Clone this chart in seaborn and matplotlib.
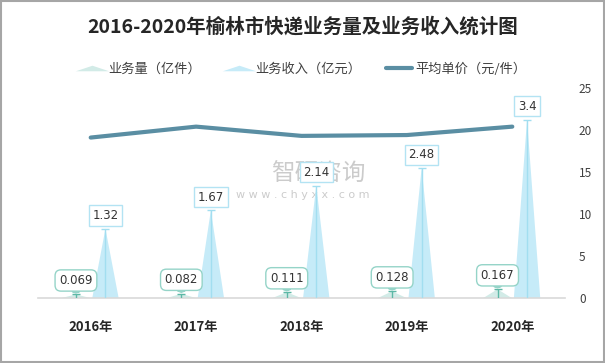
import numpy as np
import pandas as pd
import matplotlib
matplotlib.use("Agg")
import matplotlib.pyplot as plt
import seaborn as sns
from matplotlib.lines import Line2D
from matplotlib.patches import Rectangle

years = ["2016年", "2017年", "2018年", "2019年", "2020年"]
volume = [0.069, 0.082, 0.111, 0.128, 0.167]      # 亿件
revenue = [1.32, 1.67, 2.14, 2.48, 3.4]           # 亿元
unit_price = [19.1, 20.4, 19.3, 19.4, 20.4]       # 元/件

sns.set_style("white")
plt.rcParams["font.family"] = ["Noto Sans CJK SC", "DejaVu Sans"]

C_VOL = "#d2ebe7"
C_VOL_LINE = "#5db8a6"
C_VOL_BOX = "#95d4c8"
C_REV = "#c6ebf8"
C_REV_LINE = "#a2def0"
C_REV_BOX = "#b3e3f3"
C_PRICE = "#5a8ea3"

fig = plt.figure(figsize=(6.05, 3.63), dpi=100)
fig.patch.set_facecolor("white")
ax = fig.add_axes([38 / 605, 65 / 363, 527 / 605, 210 / 363])
ax2 = ax.twinx()

x = np.arange(len(years))
off = 0.14
half = 0.125

# triangles for volume and revenue (left hidden axis 0-4)
for xi, v, r in zip(x, volume, revenue):
    xv = xi - off
    ax.fill([xv - half - 0.01, xv + half + 0.01, xv], [0, 0, v], color=C_VOL, lw=0, zorder=2)
    xr = xi + off
    ax.fill([xr - half, xr + half, xr], [0, 0, r], color=C_REV, lw=0, zorder=2)

xv_all = x - off
xr_all = x + off
ax.vlines(xv_all, 0, volume, color=C_VOL_LINE, lw=1, zorder=3)
ax.plot(xv_all, volume, ls="none", marker="_", ms=6, mew=1, color=C_VOL_LINE, zorder=3)
ax.vlines(xr_all, 0, revenue, color=C_REV_LINE, lw=1, zorder=3)
ax.plot(xr_all, revenue, ls="none", marker="_", ms=6, mew=1, color=C_REV_LINE, zorder=3)

for xi, v in zip(xv_all, volume):
    ax.annotate(f"{v:g}", (xi, v), xytext=(0, 10), textcoords="offset points",
                ha="center", va="center", fontsize=8.5, color="#333333", zorder=5,
                family=["DejaVu Sans"],
                bbox=dict(boxstyle="round,pad=0.35,rounding_size=0.5", fc="white",
                          ec=C_VOL_BOX, lw=1),
                arrowprops=dict(arrowstyle="wedge,tail_width=0.6", fc="white",
                                ec=C_VOL_BOX, lw=1, shrinkA=0, shrinkB=1))
for xi, r in zip(xr_all, revenue):
    ax.annotate(f"{r:g}", (xi, r), xytext=(0, 9.5), textcoords="offset points",
                ha="center", va="center", fontsize=8.5, color="#333333", zorder=5,
                family=["DejaVu Sans"],
                bbox=dict(boxstyle="square,pad=0.3", fc="white", ec=C_REV_BOX, lw=1))

ax.set_ylim(0, 4)
ax.set_xlim(-0.5, len(years) - 0.5)
ax.set_yticks([])
ax.set_xticks(x)
ax.set_xticklabels(years, fontsize=9.5, fontweight="bold", color="#262626")
ax.tick_params(axis="x", length=0, pad=16)
for s in ["top", "left", "right"]:
    ax.spines[s].set_visible(False)
ax.spines["bottom"].set_color("#d9d9d9")
ax.spines["bottom"].set_linewidth(1.2)

# unit price line on right axis
df = pd.DataFrame({"x": x, "price": unit_price})
sns.lineplot(data=df, x="x", y="price", ax=ax2, color=C_PRICE, lw=3, zorder=4)
ax2.set_ylim(0, 25)
ax2.set_yticks([0, 5, 10, 15, 20, 25])
ax2.tick_params(axis="y", length=0, pad=10, labelsize=8.5, labelcolor="#404040")
ax2.set_xlabel("")
ax2.set_ylabel("")
for s in ["top", "left", "right", "bottom"]:
    ax2.spines[s].set_visible(False)
ax.set_zorder(ax2.get_zorder() + 1)
ax.patch.set_visible(False)

# title and legend
fig.text(0.5, 1 - 27 / 363, "2016-2020年榆林市快递业务量及业务收入统计图",
         ha="center", va="center", fontsize=14, fontweight="bold", color="#262626")

tri = [(-3, -0.5), (3, -0.5), (0, 0.5)]
handles = [
    Line2D([], [], ls="none", marker=tri, ms=24, color=C_VOL, mew=0),
    Line2D([], [], ls="none", marker=tri, ms=24, color=C_REV, mew=0),
    Line2D([], [], color=C_PRICE, lw=3),
]
labels = ["业务量（亿件）", "业务收入（亿元）", "平均单价（元/件）"]
fig.legend(handles, labels, loc="center", bbox_to_anchor=(0.5, 1 - 69 / 363), ncol=3,
           frameon=False, fontsize=9.5, handlelength=2.0, handletextpad=0.2,
           columnspacing=1.9, labelcolor="#404040")

# watermark
fig.text(318 / 605, 1 - 174 / 363, "智研咨询", ha="center", va="center",
         fontsize=17, color="#bfbfbf", alpha=0.8, zorder=0)
fig.text(303 / 605, 1 - 195 / 363, "w w w . c h y x x . c o m", ha="center", va="center",
         fontsize=8, color="#bfbfbf", alpha=0.8, family=["DejaVu Sans"], zorder=0)

fig.patches.append(Rectangle((0.001, 0.002), 0.997, 0.996, transform=fig.transFigure,
                             fill=False, ec="#a6a6a6", lw=1.5))

fig.savefig("out.png", dpi=100)
